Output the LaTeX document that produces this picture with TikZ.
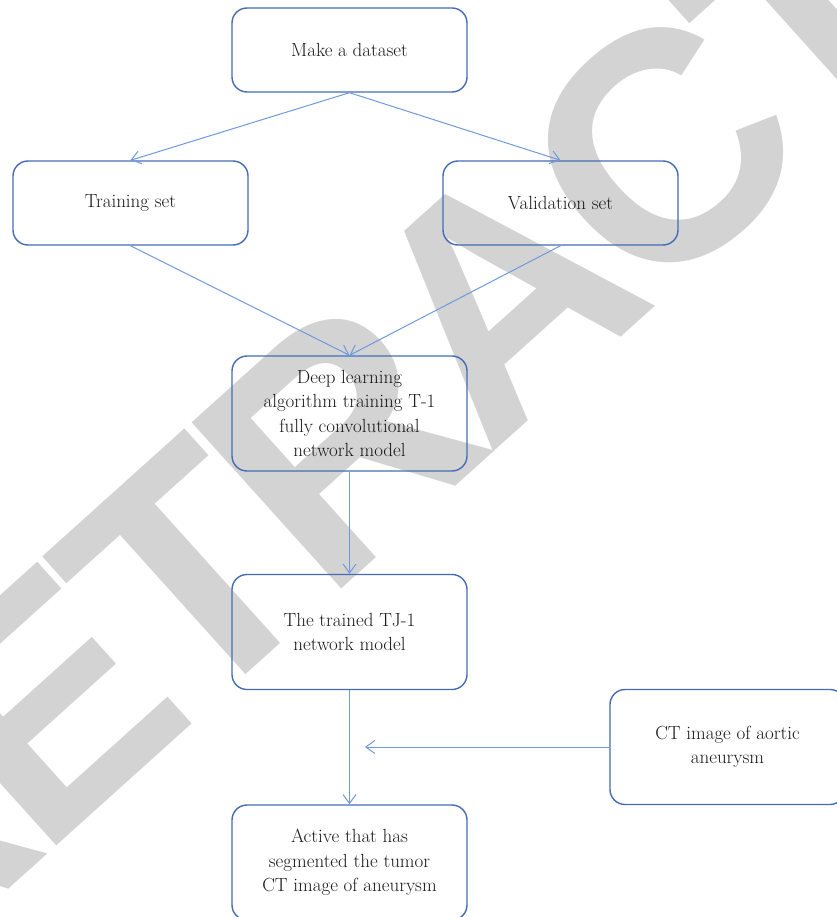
\documentclass[tikz,border=0pt]{standalone}
\usepackage{fontspec}
\newfontfamily\filigranefont[LetterSpace=-5]{Liberation Sans}
\usetikzlibrary{arrows.meta}
\definecolor{bordbleu}{RGB}{68,107,181}
\definecolor{flechebleu}{RGB}{110,154,220}
\definecolor{filigrane}{RGB}{211,211,211}
\begin{document}
\begin{tikzpicture}[x=1pt,y=-1pt]
  \tikzstyle{boite}=[draw=bordbleu, line width=1.4pt, rounded corners=15pt,
  minimum width=235pt, align=center, text=black!90,
  font=\fontsize{19}{24.5}\selectfont]
  \tikzstyle{fleche}=[-{Straight Barb[length=9pt,width=13pt]},draw=flechebleu,line width=1pt]
  \useasboundingbox (0,0) rectangle (836,917);
  % watermark
  \node[rotate=42, text=filigrane, inner sep=0pt,
  font=\filigranefont\bfseries\fontsize{325}{325}\selectfont] (filig) at (500,296) {RETRACTED};
  \foreach \n/\x/\y/\h/\t in {data/349.5/50/84/{Make a dataset},
    train/130.5/203/84/{Training set},
    valid/560.5/203/84/{Validation set},
    deep/349.5/413.5/115/{Deep learning\\algorithm training T-1\\fully convolutional\\network model},
    trained/349.5/632/115/{The trained TJ-1\\network model},
    active/349.5/862.5/115/{Active that has\\segmented the tumor\\CT image of aneurysm},
    ct/727.5/747/115/{CT image of aortic\\aneurysm}} {
    \node[boite, minimum height=\h pt] (\n) at (\x,\y) {\t};
  }
  \foreach \a/\b in {data/train,data/valid,train/deep,valid/deep,deep/trained,trained/active} {
    \draw[fleche] (\a.south) -- (\b.north);
  }
  \coordinate (entree) at (365,747);
  \draw[fleche] (ct.west) -- (entree);
\end{tikzpicture}
\end{document}
